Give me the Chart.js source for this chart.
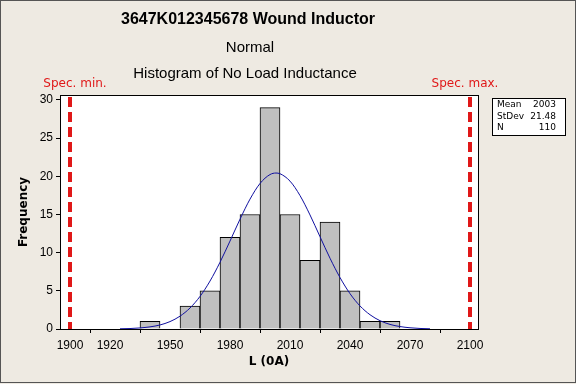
<!DOCTYPE html>
<html>
<head>
<meta charset="utf-8">
<script src="https://cdn.jsdelivr.net/npm/chart.js@4"></script>
<style>
html,body{margin:0;padding:0;background:#EEEAE2;}
#wrap{width:576px;height:384px;position:relative;}
</style>
</head>
<body>
<div id="wrap"><canvas id="c" width="576" height="384"></canvas></div>
<script>
// ---- data ----
const binCenters = [1940, 1960, 1970, 1980, 1990, 2000, 2010, 2020, 2030, 2040, 2050, 2060];
const binCounts  = [1, 3, 5, 12, 15, 29, 15, 9, 14, 5, 1, 1];
const curveX = [1925,1930,1935,1940,1945,1950,1955,1960,1965,1970,1975,1980,1985,1990,1995,2000,2003,2005,2010,2015,2020,2025,2030,2035,2040,2045,2050,2055,2060,2065,2070,2075,2080];
const curveY = [0.03,0.06,0.14,0.28,0.53,0.97,1.68,2.75,4.27,6.28,8.74,11.52,14.38,17.01,19.06,20.23,20.43,20.34,19.37,17.48,14.94,12.09,9.27,6.74,4.63,3.02,1.87,1.09,0.60,0.32,0.16,0.07,0.03];
const xTickValues = [1900, 1920, 1950, 1980, 2010, 2040, 2070, 2100];
const yTickValues = [0, 5, 10, 15, 20, 25, 30];
const specLimits = [1900, 2100];
const specLabels = ["Spec. min.", "Spec. max."];
const titleLines = ["3647K012345678 Wound Inductor", "Normal", "Histogram of No Load Inductance"];
const statNames = ["Mean", "StDev", "N"];
const statValues = ["2003", "21.48", "110"];
const xTitle = "L (0A)";
const yTitle = "Frequency";

const FONT = "'DejaVu Sans', sans-serif";
const TFONT = "'Liberation Sans', sans-serif";

const decor = {
  id: 'decor',
  beforeDraw(chart) {
    const ctx = chart.ctx;
    ctx.save();
    ctx.fillStyle = '#EEEAE2';
    ctx.fillRect(0, 0, chart.width, chart.height);
    const a = chart.chartArea;
    ctx.fillStyle = '#FFFFFF';
    ctx.fillRect(a.left, a.top, a.right - a.left, a.bottom - a.top);
    ctx.restore();
  },
  afterDatasetsDraw(chart) {
    const ctx = chart.ctx;
    const a = chart.chartArea;
    const xs = chart.scales.x;
    ctx.save();
    // spec lines
    ctx.strokeStyle = '#E01818';
    ctx.lineWidth = 4;
    ctx.setLineDash([10, 5]);
    specLimits.forEach(v => {
      const px = Math.round(xs.getPixelForValue(v));
      ctx.beginPath();
      ctx.moveTo(px, a.top + 2);
      ctx.lineTo(px, a.bottom);
      ctx.stroke();
    });
    ctx.setLineDash([]);
    // plot border
    ctx.strokeStyle = '#000';
    ctx.lineWidth = 1;
    ctx.strokeRect(Math.round(a.left) + 0.5, Math.round(a.top) + 0.5, Math.round(a.right - a.left), Math.round(a.bottom - a.top));
    // spec labels
    ctx.fillStyle = '#E01818';
    ctx.font = "12px " + FONT;
    ctx.textAlign = 'center';
    ctx.textBaseline = 'middle';
    specLimits.forEach((v, i) => {
      ctx.fillText(specLabels[i], xs.getPixelForValue(v) + (i === 0 ? 5 : -5), 84);
    });
    // titles
    ctx.fillStyle = '#000';
    ctx.font = "bold 16px " + TFONT;
    ctx.fillText(titleLines[0], 248, 20);
    ctx.font = "15px " + TFONT;
    ctx.fillText(titleLines[1], 250, 48);
    ctx.fillText(titleLines[2], 245, 74);
    // axis titles
    ctx.font = "bold 12px " + FONT;
    ctx.fillText(xTitle, (a.left + a.right) / 2, 362);
    ctx.save();
    ctx.translate(24, (a.top + a.bottom) / 2);
    ctx.rotate(-Math.PI / 2);
    ctx.fillText(yTitle, 0, 0);
    ctx.restore();
    // stats box
    ctx.fillStyle = '#FFFFFF';
    ctx.fillRect(492, 98, 74, 37);
    ctx.strokeStyle = '#000';
    ctx.strokeRect(492.5, 98.5, 73, 37);
    ctx.fillStyle = '#000';
    ctx.font = "9px " + FONT;
    statNames.forEach((n, i) => {
      const y = 105 + i * 11.5;
      ctx.textAlign = 'left';
      ctx.fillText(n, 497, y);
      ctx.textAlign = 'right';
      ctx.fillText(statValues[i], 556, y);
    });
    // outer frame
    ctx.strokeStyle = '#555';
    ctx.strokeRect(0.5, 0.5, chart.width - 1, chart.height - 2);
    ctx.restore();
  }
};

new Chart(document.getElementById('c'), {
  type: 'bar',
  data: {
    datasets: [
      {
        type: 'line',
        data: curveX.map((x, i) => ({x: x, y: curveY[i]})),
        borderColor: '#1010A0',
        borderWidth: 1,
        pointRadius: 0,
        fill: false,
        cubicInterpolationMode: 'monotone',
        order: 0
      },
      {
        type: 'bar',
        data: binCenters.map((x, i) => ({x: x, y: binCounts[i]})),
        backgroundColor: '#C0C0C0',
        borderColor: '#000000',
        borderWidth: 1,
        barPercentage: 1,
        categoryPercentage: 1,
        order: 1
      }
    ]
  },
  options: {
    responsive: false,
    animation: false,
    events: [],
    layout: { padding: { top: 95, right: 98, left: 0, bottom: 0 } },
    plugins: { legend: { display: false }, title: { display: false }, tooltip: { enabled: false } },
    scales: {
      x: {
        type: 'linear',
        min: 1895,
        max: 2104,
        offset: false,
        afterBuildTicks(s) { s.ticks = xTickValues.map(v => ({value: v})); },
        afterFit(s) { s.height = 55; },
        ticks: { color: '#000', font: { family: TFONT, size: 12 }, padding: 5, maxRotation: 0, autoSkip: false,
                 callback: v => String(v) },
        grid: { drawOnChartArea: false, tickLength: 4, color: '#000' },
        border: { display: false }
      },
      y: {
        min: 0,
        max: 30.65,
        afterBuildTicks(s) { s.ticks = yTickValues.map(v => ({value: v})); },
        afterFit(s) { s.width = 60; },
        ticks: { color: '#000', font: { family: TFONT, size: 12 }, padding: 3, callback: v => String(v) },
        grid: { drawOnChartArea: false, tickLength: 4, color: '#000' },
        border: { display: false }
      }
    }
  },
  plugins: [decor]
});
</script>
</body>
</html>
